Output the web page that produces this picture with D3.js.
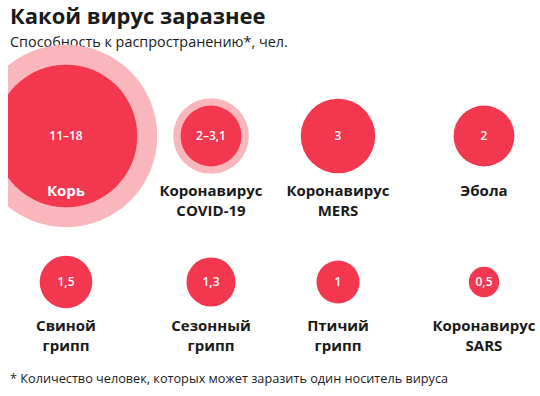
<!DOCTYPE html>
<html>
<head>
<meta charset="utf-8">
<script src="https://cdn.jsdelivr.net/npm/d3@7"></script>
<style>
  body { margin: 0; background: #fff; }
  svg { display: block; font-family: "Open Sans", sans-serif; }
</style>
</head>
<body>
<div id="chart"></div>
<script>
'use strict';

// chart data ---------------------
const names       = [["Корь"], ["Коронавирус", "COVID-19"], ["Коронавирус", "MERS"], ["Эбола"],
                     ["Свиной", "грипп"], ["Сезонный", "грипп"], ["Птичий", "грипп"], ["Коронавирус", "SARS"]]
const lowValues   = [11, 2, 3, 2, 1.5, 1.3, 1, 0.5]
const highValues  = [18, 3.1, 3, 2, 1.5, 1.3, 1, 0.5]
const valueLabels = ["11–18", "2–3,1", "3", "2", "1,5", "1,3", "1", "0,5"]

// layout
const width      = 540
const height     = 396
const dark_color = "#f2374f"
const light_color = "#f9b6bd"
const text_color = "#1a1a1a"

const svg = d3.select('#chart').append('svg')
    .attr('width', width)
    .attr('height', height)

// left edge of the picture is cropped
svg.append('clipPath').attr('id', 'crop')
    .append('rect').attr('x', 8).attr('y', 0).attr('width', width).attr('height', height)

const data = names.map(function(n, i) {
    return {name: n, low: lowValues[i], high: highValues[i], label: valueLabels[i], col: i % 4, row: Math.floor(i / 4)}
})

// scales
const r = d3.scaleSqrt().domain([0, 1]).range([0, 21.5])
const x = d3.scaleOrdinal().domain([0, 1, 2, 3]).range([66, 211, 338, 484])
const y = d3.scaleOrdinal().domain([0, 1]).range([136, 282])
const nameY = d3.scaleOrdinal().domain([0, 1]).range([196, 331])

// title
svg.append('text')
    .attr('x', 10).attr('y', 24)
    .attr('font-size', 22).attr('font-weight', 700).attr('fill', text_color)
    .text('Какой вирус заразнее')

svg.append('text')
    .attr('x', 10).attr('y', 47)
    .attr('font-size', 14.4).attr('fill', text_color)
    .text('Способность к распространению*, чел.')

const circles = svg.append('g').attr('clip-path', 'url(#crop)')

// range halo (only where max > min)
circles.selectAll('circle.high')
    .data(data.filter(function(d) { return d.high > d.low }))
    .enter().append('circle')
    .attr('class', 'high')
    .attr('cx', function(d) { return x(d.col) })
    .attr('cy', function(d) { return y(d.row) })
    .attr('r', function(d) { return r(d.high) })
    .attr('fill', light_color)

circles.selectAll('circle.low')
    .data(data)
    .enter().append('circle')
    .attr('class', 'low')
    .attr('cx', function(d) { return x(d.col) })
    .attr('cy', function(d) { return y(d.row) })
    .attr('r', function(d) { return r(d.low) })
    .attr('fill', dark_color)

// value labels
svg.append('g').selectAll('text')
    .data(data)
    .enter().append('text')
    .attr('x', function(d) { return x(d.col) })
    .attr('y', function(d) { return y(d.row) })
    .attr('dy', '0.35em')
    .attr('text-anchor', 'middle')
    .attr('font-size', 12).attr('font-weight', 600).attr('fill', '#fff')
    .text(function(d) { return d.label })

// names, white when they sit inside a big circle
const nameText = svg.append('g').selectAll('text')
    .data(data)
    .enter().append('text')
    .attr('x', function(d) { return x(d.col) })
    .attr('y', function(d) { return nameY(d.row) })
    .attr('text-anchor', 'middle')
    .attr('font-size', 15).attr('font-weight', 700)
    .attr('fill', function(d) { return nameY(d.row) - y(d.row) < r(d.low) ? '#fff' : text_color })

nameText.selectAll('tspan')
    .data(function(d) { return d.name })
    .enter().append('tspan')
    .attr('x', function() { return d3.select(this.parentNode).attr('x') })
    .attr('dy', function(t, i) { return i == 0 ? 0 : 20 })
    .text(function(t) { return t })

// footnote
svg.append('text')
    .attr('x', 10).attr('y', 383)
    .attr('font-size', 12.7).attr('fill', text_color)
    .text('* Количество человек, которых может заразить один носитель вируса')
</script>
</body>
</html>
